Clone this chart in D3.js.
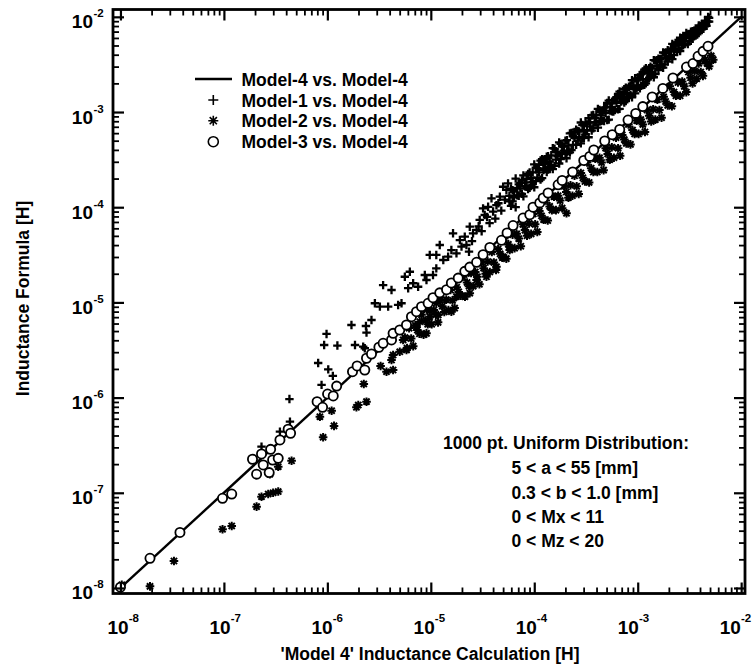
<!DOCTYPE html>
<html>
<head>
<meta charset="utf-8">
<script src="https://cdn.jsdelivr.net/npm/d3@7"></script>
<style>
  body { margin: 0; background: #fff; }
  svg text { font-family: "Liberation Sans", Arial, Helvetica, sans-serif; font-weight: bold; fill: #000; }
</style>
</head>
<body>
<svg id="chart" width="752" height="665"></svg>
<script>
// reference line, Model-4 vs Model-4
const refLine = [[1e-8, 1e-8], [1e-2, 1e-2]];

// Model-1 vs Model-4 (plus), [model4, model1] in H
const model1 = [
  [2.31e-7,3.05e-7],[3.48e-7,4.39e-7],[4.35e-7,5.58e-7],[4.30e-7,9.66e-7],[8.15e-7,2.31e-6],[8.79e-7,1.36e-6],
  [9.31e-7,3.57e-6],[9.82e-7,4.66e-6],[1.02e-6,1.98e-6],[1.13e-6,1.69e-6],[1.25e-6,3.52e-6],[1.71e-6,5.79e-6],
  [1.85e-6,3.57e-6],[2.22e-6,3.43e-6],[2.39e-6,4.81e-6],[2.36e-6,5.65e-6],[2.30e-6,3.30e-6],[2.67e-6,6.53e-6],
  [2.88e-6,9.8e-6],[3.22e-6,9.02e-6],[3.46e-6,1.52e-5],[3.87e-6,9.02e-6],[4.17e-6,1.35e-5],[4.83e-6,9.40e-6],
  [5.21e-6,9.80e-6],[5.61e-6,1.86e-5],[6.04e-6,1.41e-5],[6.27e-6,2.10e-5],[6.75e-6,1.59e-5],[7.54e-6,1.46e-5],
  [8.75e-6,1.94e-5],[9.08e-6,1.72e-5],[9.77e-6,3.15e-5],[1.05e-5,1.94e-5],[1.13e-5,2.28e-5],[1.13e-5,3.15e-5],
  [1.22e-5,4.01e-5],[1.32e-5,2.79e-5],[1.47e-5,3.02e-5],[1.58e-5,3.55e-5],[1.64e-5,5.32e-5],[1.77e-5,3.28e-5],
  [1.91e-5,4.52e-5],[1.98e-5,3.85e-5],[2.13e-5,4.90e-5],[2.21e-5,4.01e-5],[2.34e-5,3.41e-5],[2.38e-5,6.24e-5],
  [2.5e-5,4.4e-5],[2.56e-5,5.32e-5],[2.77e-5,5.77e-5],[2.9e-5,6.3e-5],[2.97e-5,7.35e-5],[3.1e-5,5.6e-5],
  [3.20e-5,9.73e-5],[3.32e-5,8.28e-5],[3.5e-5,7.9e-5],[3.58e-5,1.01e-4],[3.7e-5,6.8e-5],[3.86e-5,1.24e-4],
  [4.0e-5,9.0e-5],[4.2e-5,7.6e-5],[4.31e-5,1.05e-4],[4.5e-5,1.1e-4],[4.65e-5,1.29e-4],[4.8e-5,9.2e-5],
  [5.00e-5,1.64e-4],[5.2e-5,1.2e-4],[5.38e-5,1.52e-4],[5.58e-5,1.78e-4],
  [5.75e-5,1.15e-4],[5.96e-5,1.57e-4],[6.17e-5,1.15e-4],[6.38e-5,1.46e-4],[6.61e-5,2.00e-4],[6.84e-5,1.33e-4],
  [7.08e-5,1.74e-4],[7.33e-5,1.57e-4],[7.59e-5,1.38e-4],[7.85e-5,2.16e-4],[8.13e-5,1.66e-4],[8.41e-5,1.97e-4],
  [8.71e-5,1.55e-4],[9.02e-5,2.32e-4],[9.33e-5,2.04e-4],[9.66e-5,1.84e-4],[1.00e-4,2.82e-4],[1.035e-4,1.88e-4],
  [1.07e-4,2.57e-4],[1.11e-4,2.32e-4],[1.15e-4,1.95e-4],[1.19e-4,3.20e-4],[1.23e-4,2.45e-4],[1.27e-4,2.92e-4],
  [1.32e-4,2.34e-4],[1.36e-4,3.43e-4],[1.41e-4,3.02e-4],[1.46e-4,2.79e-4],[1.51e-4,4.17e-4],[1.57e-4,2.72e-4],
  [1.62e-4,3.80e-4],[1.68e-4,3.43e-4],[1.74e-4,2.88e-4],[1.80e-4,4.62e-4],[1.86e-4,3.63e-4],[1.93e-4,4.32e-4],
  [2.00e-4,3.63e-4],[2.05e-4,3.27e-4],[2.07e-4,5.07e-4],[2.14e-4,4.47e-4],[2.21e-4,3.76e-4],[2.29e-4,6.03e-4],
  [2.37e-4,4.52e-4],[2.45e-4,5.37e-4],[2.54e-4,4.52e-4],[2.63e-4,6.31e-4],[2.72e-4,5.43e-4],[2.82e-4,4.68e-4],
  [2.92e-4,7.33e-4],[3.02e-4,6.46e-4],[3.13e-4,5.82e-4],[3.24e-4,7.41e-4],[3.35e-4,5.43e-4],[3.47e-4,7.08e-4],
  [3.59e-4,9.23e-4],[3.72e-4,6.76e-4],[3.85e-4,8.61e-4],[3.98e-4,7.76e-4],[4.12e-4,6.84e-4],[4.27e-4,1.05e-3],
  [4.42e-4,9.23e-4],[4.57e-4,8.13e-4],[4.73e-4,1.11e-3],[4.90e-4,9.77e-4],[5.07e-4,8.22e-4],[5.25e-4,1.32e-3],
  [5.43e-4,1.035e-3],[5.62e-4,1.23e-3],[5.82e-4,1.01e-3],[6.03e-4,1.38e-3],[6.24e-4,1.245e-3],[6.46e-4,1.07e-3],
  [6.68e-4,1.64e-3],[6.92e-4,1.29e-3],[7.16e-4,1.53e-3],[7.41e-4,1.26e-3],[7.67e-4,1.80e-3],[7.94e-4,1.585e-3],
  [8.22e-4,1.46e-3],[8.51e-4,1.905e-3],[8.81e-4,1.43e-3],[9.12e-4,1.905e-3],[9.44e-4,2.26e-3],[9.77e-4,1.78e-3],
  [1.01e-3,2.21e-3],[1.05e-3,1.78e-3],[1.08e-3,2.48e-3],[1.12e-3,2.19e-3],[1.16e-3,1.93e-3],[1.20e-3,2.88e-3],
  [1.245e-3,2.54e-3],[1.29e-3,2.29e-3],[1.33e-3,2.99e-3],[1.38e-3,2.63e-3],[1.43e-3,2.32e-3],[1.48e-3,3.47e-3],
  [1.53e-3,3.05e-3],[1.585e-3,2.75e-3],[1.64e-3,3.59e-3],[1.70e-3,3.16e-3],[1.76e-3,2.92e-3],[1.82e-3,4.17e-3],
  [1.88e-3,3.67e-3],[1.95e-3,3.39e-3],[2.02e-3,4.32e-3],[2.09e-3,3.89e-3],[2.16e-3,3.59e-3],[2.24e-3,5.01e-3],
  [2.32e-3,4.62e-3],[2.40e-3,4.27e-3],[2.48e-3,5.31e-3],[2.57e-3,4.37e-3],[2.66e-3,5.19e-3],[2.75e-3,6.03e-3],
  [2.85e-3,5.19e-3],[2.95e-3,6.03e-3],[3.05e-3,5.19e-3],[3.16e-3,6.61e-3],[3.27e-3,6.10e-3],[3.39e-3,5.89e-3],
  [3.51e-3,7.16e-3],[3.63e-3,6.61e-3],[3.76e-3,7.33e-3],[3.89e-3,6.76e-3],[4.03e-3,8.04e-3],[4.17e-3,7.59e-3],
  [4.32e-3,8.22e-3],[4.47e-3,7.94e-3],[4.62e-3,9.02e-3],[4.79e-3,8.91e-3],[4.90e-3,9.77e-3],
  [5.75e-5,1.32e-4],[5.96e-5,1.035e-4],[6.17e-5,1.51e-4],[6.38e-5,1.27e-4],[6.61e-5,1.00e-4],[6.84e-5,1.60e-4],
  [7.08e-5,1.32e-4],[7.33e-5,1.80e-4],[7.59e-5,1.91e-4],[7.85e-5,1.30e-4],[8.13e-5,1.82e-4],[8.41e-5,1.64e-4],
  [8.71e-5,2.24e-4],[9.02e-5,1.60e-4],[9.33e-5,1.70e-4],[9.66e-5,2.32e-4],[1.00e-4,1.62e-4],[1.035e-4,2.60e-4],
  [1.07e-4,2.04e-4],[1.11e-4,2.79e-4],[1.15e-4,3.09e-4],[1.19e-4,2.02e-4],[1.23e-4,2.82e-4],[1.27e-4,2.54e-4],
  [1.32e-4,3.39e-4],[1.36e-4,2.48e-4],[1.41e-4,2.63e-4],[1.46e-4,3.51e-4],[1.51e-4,2.51e-4],[1.57e-4,4.12e-4],
  [1.62e-4,3.16e-4],[1.68e-4,3.76e-4],[1.74e-4,4.79e-4],[1.80e-4,3.20e-4],[1.86e-4,4.37e-4],[1.93e-4,3.94e-4],
  [2.00e-4,5.01e-4],[2.07e-4,3.85e-4],[2.14e-4,3.89e-4],[2.21e-4,5.96e-4],[2.29e-4,3.98e-4],[2.37e-4,5.69e-4],
  [2.45e-4,6.17e-4],[2.54e-4,6.53e-4],[2.63e-4,5.01e-4],[2.72e-4,6.24e-4],[2.82e-4,7.76e-4],[2.92e-4,5.31e-4],
  [3.02e-4,5.37e-4],[3.13e-4,7.67e-4],[3.24e-4,6.46e-4],[3.35e-4,8.61e-4],[3.47e-4,7.76e-4],[3.59e-4,6.38e-4],
  [3.72e-4,9.33e-4],[3.85e-4,7.85e-4],[3.98e-4,9.33e-4],[4.12e-4,1.08e-3],[4.27e-4,7.94e-4],[4.42e-4,8.04e-4],
  [4.57e-4,1.02e-3],[4.73e-4,8.04e-4],[4.90e-4,1.12e-3],[5.07e-4,1.245e-3],[5.25e-4,8.32e-4],[5.43e-4,1.135e-3],
  [5.62e-4,1.02e-3],[5.82e-4,1.33e-3],[6.03e-4,1.05e-3],[6.24e-4,1.40e-3],[6.46e-4,1.55e-3],[6.68e-4,1.08e-3],
  [6.92e-4,1.48e-3],[7.16e-4,1.33e-3],[7.41e-4,1.74e-3],[7.67e-4,1.30e-3],[7.94e-4,1.41e-3],[8.22e-4,1.84e-3],
  [8.51e-4,1.51e-3],[8.81e-4,2.16e-3],[9.12e-4,1.74e-3],[9.44e-4,1.57e-3],[9.77e-4,2.14e-3],[1.01e-3,1.84e-3],
  [1.05e-3,2.45e-3],[1.08e-3,1.88e-3],[1.12e-3,2.63e-3],[1.16e-3,2.79e-3],[1.20e-3,2.00e-3],[1.245e-3,2.21e-3],
  [1.29e-3,2.88e-3],[1.33e-3,2.37e-3],[1.38e-3,2.88e-3],[1.43e-3,3.51e-3],[1.48e-3,2.51e-3],[1.53e-3,3.51e-3],
  [1.585e-3,3.63e-3],[1.64e-3,2.99e-3],[1.70e-3,3.63e-3],[1.76e-3,4.22e-3],[1.82e-3,3.16e-3],[1.88e-3,4.22e-3],
  [1.95e-3,4.47e-3],[2.02e-3,3.76e-3],[2.09e-3,4.47e-3],[2.16e-3,5.19e-3],[2.24e-3,3.98e-3],[2.32e-3,5.31e-3],
  [2.40e-3,5.37e-3],[2.48e-3,4.62e-3],[2.57e-3,6.03e-3],[2.66e-3,5.96e-3],[2.75e-3,5.01e-3],[2.85e-3,6.24e-3],
  [2.95e-3,6.76e-3],[3.05e-3,6.53e-3],[3.16e-3,5.50e-3],[3.27e-3,7.00e-3],[3.39e-3,7.08e-3],[3.51e-3,6.24e-3],
  [3.63e-3,7.24e-3],[3.76e-3,6.53e-3],[3.89e-3,8.13e-3],[4.03e-3,7.33e-3],[4.17e-3,8.32e-3],[4.32e-3,7.50e-3],
  [4.47e-3,9.12e-3],[4.62e-3,8.04e-3],[4.79e-3,1.00e-2],[4.90e-3,8.91e-3]
];

// Model-2 vs Model-4 (asterisk)
const model2 = [
  [1.03e-8,1.08e-8],[1.93e-8,1.04e-8],[3.29e-8,1.92e-8],[9.7e-8,4.14e-8],[1.19e-7,4.48e-8],[2.07e-7,7.15e-8],
  [2.31e-7,9.10e-8],[2.68e-7,9.70e-8],[2.99e-7,1.00e-7],[3.35e-7,1.03e-7],[2.78e-7,1.57e-7],[3.35e-7,1.88e-7],
  [4.51e-7,2.17e-7],[8.47e-7,6.30e-7],[9.10e-7,3.83e-7],[1.16e-6,5.04e-7],[1.10e-6,7.28e-7],[1.91e-6,7.91e-7],
  [1.99e-6,8.36e-7],[2.39e-6,9.06e-7],[2.25e-6,1.39e-6],[3.27e-6,2.15e-6],[3.73e-6,1.87e-6],[4.17e-6,2.48e-6],
  [4.32e-6,1.95e-6],[4.32e-6,2.80e-6],[5.01e-6,3.03e-6],[5.40e-6,4.03e-6],[5.82e-6,3.16e-6],[7.27e-6,5.56e-6],
  [7.83e-6,6.27e-6],[9.08e-6,4.73e-6],[9.08e-6,8.5e-6],[9.77e-6,7.08e-6],[1.13e-5,9.86e-6],[1.18e-5,7.38e-6],
  [1.58e-5,7.98e-6],[1.77e-5,1.15e-5],[2.21e-5,2.02e-5],[2.38e-5,1.25e-5],[2.77e-5,1.72e-5],[3.45e-5,1.86e-5],
  [4.31e-5,2.37e-5],[5.00e-5,3.02e-5],[5.79e-5,3.55e-5],[2.05e-4,8.63e-5],
  [5.62e-6,4.27e-6],[5.89e-6,3.31e-6],[6.17e-6,5.37e-6],[6.46e-6,4.17e-6],[6.76e-6,3.47e-6],[7.08e-6,5.75e-6],
  [7.41e-6,5.13e-6],[7.76e-6,4.68e-6],[8.13e-6,7.41e-6],[8.51e-6,4.57e-6],[8.91e-6,6.46e-6],[9.33e-6,5.89e-6],
  [9.77e-6,8.13e-6],[1.02e-5,5.89e-6],[1.07e-5,8.32e-6],[1.12e-5,7.41e-6],[1.175e-5,6.17e-6],[1.23e-5,1.05e-5],
  [1.29e-5,9.12e-6],[1.35e-5,7.94e-6],[1.41e-5,1.07e-5],[1.48e-5,8.32e-6],[1.55e-5,1.35e-5],[1.62e-5,1.05e-5],
  [1.70e-5,8.71e-6],[1.78e-5,1.445e-5],[1.86e-5,1.29e-5],[1.95e-5,1.175e-5],[2.04e-5,1.86e-5],[2.14e-5,1.15e-5],
  [2.24e-5,1.62e-5],[2.34e-5,1.48e-5],[2.45e-5,2.04e-5],[2.57e-5,1.48e-5],[2.69e-5,2.09e-5],[2.82e-5,1.86e-5],
  [2.95e-5,1.55e-5],[3.09e-5,2.63e-5],[3.24e-5,2.29e-5],[3.39e-5,2.00e-5],[3.55e-5,2.69e-5],[3.72e-5,2.09e-5],
  [3.89e-5,3.39e-5],[4.07e-5,2.63e-5],[4.27e-5,2.19e-5],[4.47e-5,3.63e-5],[4.68e-5,3.24e-5],[4.90e-5,2.95e-5],
  [5.13e-5,4.68e-5],[5.37e-5,2.88e-5],[5.62e-5,4.07e-5],[5.89e-5,3.72e-5],[6.17e-5,5.13e-5],[6.46e-5,3.72e-5],
  [6.76e-5,5.25e-5],[7.08e-5,4.68e-5],[7.41e-5,3.89e-5],[7.76e-5,6.61e-5],[8.13e-5,5.75e-5],[8.51e-5,5.01e-5],
  [8.91e-5,6.76e-5],[9.33e-5,5.25e-5],[9.77e-5,8.51e-5],[1.02e-4,6.61e-5],[1.07e-4,5.50e-5],[1.12e-4,9.12e-5],
  [1.175e-4,8.13e-5],[1.23e-4,7.41e-5],[1.29e-4,1.175e-4],[1.35e-4,7.24e-5],[1.41e-4,1.02e-4],[1.48e-4,9.33e-5],
  [1.55e-4,1.29e-4],[1.62e-4,9.33e-5],[1.70e-4,1.32e-4],[1.78e-4,1.175e-4],[1.86e-4,9.77e-5],[1.95e-4,1.66e-4],
  [2.04e-4,1.445e-4],[2.14e-4,1.26e-4],[2.24e-4,1.70e-4],[2.34e-4,1.32e-4],[2.45e-4,2.14e-4],[2.57e-4,1.66e-4],
  [2.69e-4,1.38e-4],[2.82e-4,2.29e-4],[2.95e-4,2.04e-4],[3.09e-4,1.86e-4],[3.24e-4,2.95e-4],[3.39e-4,1.82e-4],
  [3.55e-4,2.57e-4],[3.72e-4,2.34e-4],[3.89e-4,3.24e-4],[4.07e-4,2.34e-4],[4.27e-4,3.31e-4],[4.47e-4,2.95e-4],
  [4.68e-4,2.45e-4],[4.90e-4,4.17e-4],[5.13e-4,3.63e-4],[5.37e-4,3.16e-4],[5.62e-4,4.27e-4],[5.89e-4,3.31e-4],
  [6.17e-4,5.37e-4],[6.46e-4,4.17e-4],[6.76e-4,3.47e-4],[7.08e-4,5.75e-4],[7.41e-4,5.13e-4],[7.76e-4,4.68e-4],
  [8.13e-4,7.41e-4],[8.51e-4,4.57e-4],[8.91e-4,6.46e-4],[9.33e-4,5.89e-4],[9.77e-4,8.13e-4],[1.02e-3,5.89e-4],
  [1.07e-3,8.32e-4],[1.12e-3,7.41e-4],[1.175e-3,6.17e-4],[1.23e-3,1.05e-3],[1.29e-3,9.12e-4],[1.35e-3,7.94e-4],
  [1.41e-3,1.07e-3],[1.48e-3,8.32e-4],[1.55e-3,1.35e-3],[1.62e-3,1.05e-3],[1.70e-3,8.71e-4],[1.78e-3,1.445e-3],
  [1.86e-3,1.29e-3],[1.95e-3,1.175e-3],[2.04e-3,1.86e-3],[2.14e-3,1.15e-3],[2.24e-3,1.62e-3],[2.34e-3,1.48e-3],
  [2.45e-3,2.04e-3],[2.57e-3,1.48e-3],[2.69e-3,2.09e-3],[2.82e-3,1.86e-3],[2.95e-3,1.62e-3],[3.09e-3,2.63e-3],
  [3.24e-3,2.29e-3],[3.39e-3,2.00e-3],[3.55e-3,2.69e-3],[3.72e-3,2.24e-3],[3.89e-3,3.24e-3],[4.07e-3,2.63e-3],
  [4.27e-3,2.40e-3],[4.47e-3,3.55e-3],[4.68e-3,3.24e-3],[4.90e-3,3.02e-3],[5.13e-3,3.89e-3],[5.37e-3,3.55e-3]
];

// Model-3 vs Model-4 (open circle)
const model3 = [
  [1.0e-8,1.02e-8],[1.93e-8,2.05e-8],[3.76e-8,3.83e-8],[9.7e-8,8.75e-8],[1.19e-7,9.7e-8],[1.89e-7,2.25e-7],
  [2.07e-7,1.57e-7],[2.31e-7,2.56e-7],[2.40e-7,1.96e-7],[2.74e-7,1.63e-7],[2.83e-7,2.86e-7],[2.96e-7,2.21e-7],
  [3.35e-7,2.30e-7],[3.48e-7,3.59e-7],[4.18e-7,4.65e-7],[4.41e-7,4.22e-7],[7.96e-7,9.06e-7],[8.99e-7,7.91e-7],
  [1.005e-6,1.09e-6],[1.14e-6,1.04e-6],[1.23e-6,1.32e-6],[1.75e-6,1.87e-6],[1.94e-6,2.15e-6],[2.30e-6,1.95e-6],
  [2.39e-6,2.59e-6],[2.67e-6,2.87e-6],[3.15e-6,3.38e-6],[3.46e-6,3.72e-6],[4.17e-6,4.03e-6],[4.32e-6,4.73e-6],
  [5.01e-6,5.13e-6],[5.82e-6,5.79e-6],[6.50e-6,7.08e-6],[7.27e-6,7.98e-6],[8.13e-6,9.02e-6],[9.42e-6,9.79e-6],
  [1.05e-5,1.12e-5],[1.22e-5,1.26e-5],[1.42e-5,1.36e-5],[1.58e-5,1.60e-5],[1.84e-5,1.80e-5],[2.13e-5,2.12e-5],
  [2.38e-5,2.35e-5],[2.77e-5,2.64e-5],[3.20e-5,3.17e-5],[3.72e-5,3.78e-5],[4.82e-5,4.49e-5],[5.46e-5,5.37e-5],
  [6.24e-5,6.42e-5],[7.80e-5,7.70e-5],[9.05e-5,8.34e-5],[9.73e-5,1.00e-4],[1.13e-4,1.11e-4],[1.22e-4,1.25e-4],
  [1.36e-4,1.41e-4],[1.70e-4,1.72e-4],[1.86e-4,1.91e-4],[2.35e-4,2.35e-4],[3.01e-4,3.10e-4],[3.44e-4,3.42e-4],
  [3.76e-4,3.99e-4],[4.80e-4,4.96e-4],[5.67e-4,5.78e-4],[6.70e-4,6.56e-4],[8.06e-4,8.23e-4],[9.57e-4,9.67e-4],
  [1.12e-3,1.14e-3],[1.38e-3,1.44e-3],[1.75e-3,1.77e-3],[2.19e-3,2.28e-3],[2.96e-3,2.97e-3],[3.42e-3,3.23e-3],
  [3.83e-3,3.85e-3],[4.28e-3,4.34e-3],[4.78e-3,4.90e-3]
];

const tickExps = [-8, -7, -6, -5, -4, -3, -2];
const legendLabels = ["Model-4 vs. Model-4", "Model-1 vs. Model-4", "Model-2 vs. Model-4", "Model-3 vs. Model-4"];
const noteLines = ["1000 pt. Uniform Distribution:", "5 < a < 55 [mm]", "0.3 < b < 1.0 [mm]", "0 < Mx < 11", "0 < Mz < 20"];
const xTitle = "'Model 4' Inductance Calculation [H]";
const yTitle = "Inductance Formula [H]";

const svg = d3.select("#chart");
const L = 113, R = 745, T = 9.5, B = 593.5;

const x = d3.scaleLog().domain([Math.pow(10, -8.072), Math.pow(10, -1.963)]).range([L, R]);
const y = d3.scaleLog().domain([Math.pow(10, -8.058), Math.pow(10, -1.923)]).range([B, T]);

function plusPath(s) { return `M${-s},0H${s}M0,${-s}V${s}`; }
function starPath(s) {
  const a = s * 0.72;
  return `M0,${-s}V${s}M${-s},0H${s}M${-a},${-a}L${a},${a}M${-a},${a}L${a},${-a}`;
}

// markers
const plot = svg.append("g");
plot.selectAll("path.m2").data(model2).join("path").attr("class", "m2")
  .attr("transform", d => `translate(${x(d[0])},${y(d[1])})`)
  .attr("d", starPath(4.3)).attr("fill", "none").attr("stroke", "#000").attr("stroke-width", 2);

plot.selectAll("path.m1").data(model1).join("path").attr("class", "m1")
  .attr("transform", d => `translate(${x(d[0])},${y(d[1])})`)
  .attr("d", plusPath(4.2)).attr("fill", "none").attr("stroke", "#000").attr("stroke-width", 2.3);

plot.append("path").datum(refLine)
  .attr("d", d3.line().x(d => x(d[0])).y(d => y(d[1])))
  .attr("fill", "none").attr("stroke", "#000").attr("stroke-width", 2.4);

plot.selectAll("circle.m3").data(model3).join("circle").attr("class", "m3")
  .attr("cx", d => x(d[0])).attr("cy", d => y(d[1])).attr("r", 4.6)
  .attr("fill", "#fff").attr("stroke", "#000").attr("stroke-width", 1.8);

// ticks, inward on all four sides
const majorVals = tickExps.map(e => Math.pow(10, e));
const minorVals = [];
tickExps.slice(0, -1).forEach(e => { for (let m = 2; m <= 9; m++) minorVals.push(m * Math.pow(10, e)); });

function addAxis(axisFn, scale, vals, size, pos, w) {
  const g = svg.append("g").attr("transform", pos)
    .call(axisFn(scale).tickValues(vals).tickSizeInner(-size).tickSizeOuter(0).tickFormat(""));
  g.select(".domain").remove();
  g.selectAll("line").attr("stroke", "#000").attr("stroke-width", w);
}
[[majorVals, 11, 2.2], [minorVals, 6, 1.8]].forEach(([vals, size, w]) => {
  addAxis(d3.axisBottom, x, vals, size, `translate(0,${B})`, w);
  addAxis(d3.axisTop, x, vals, size, `translate(0,${T})`, w);
  addAxis(d3.axisLeft, y, vals, size, `translate(${L},0)`, w);
  addAxis(d3.axisRight, y, vals, size, `translate(${R},0)`, w);
});

svg.append("rect").attr("x", L).attr("y", T).attr("width", R - L).attr("height", B - T)
  .attr("fill", "none").attr("stroke", "#000").attr("stroke-width", 2.8);

// tick labels as 10 with superscript
tickExps.forEach((e, i) => {
  const v = Math.pow(10, e);
  const bx = x(v) - 13 - 1.4 * i;
  svg.append("text").attr("x", bx).attr("y", 634).attr("font-size", 19).text("10");
  svg.append("text").attr("x", bx + 21.2).attr("y", 622).attr("font-size", 11.5).text(e);
  svg.append("text").attr("x", 93).attr("y", y(v) + 11.5).attr("text-anchor", "end").attr("font-size", 19).text("10");
  svg.append("text").attr("x", 93.5).attr("y", y(v) + 0.5).attr("font-size", 11.5).text(e);
});

// axis titles
svg.append("text").attr("x", 430).attr("y", 660).attr("text-anchor", "middle").attr("font-size", 17.5).text(xTitle);
svg.append("text").attr("transform", "translate(28.5,298.5) rotate(-90)").attr("text-anchor", "middle")
  .attr("font-size", 17.5).text(yTitle);

// legend
const rows = [79, 100, 120.7, 141.7];
const lg = svg.append("g");
lg.append("line").attr("x1", 195).attr("x2", 232).attr("y1", rows[0]).attr("y2", rows[0])
  .attr("stroke", "#000").attr("stroke-width", 2.4);
lg.append("path").attr("transform", `translate(213.3,${rows[1]})`).attr("d", plusPath(5))
  .attr("stroke", "#000").attr("stroke-width", 1.6).attr("fill", "none");
lg.append("path").attr("transform", `translate(213.3,${rows[2]})`).attr("d", starPath(5))
  .attr("stroke", "#000").attr("stroke-width", 1.6).attr("fill", "none");
lg.append("circle").attr("cx", 213.3).attr("cy", rows[3]).attr("r", 5)
  .attr("fill", "#fff").attr("stroke", "#000").attr("stroke-width", 1.6);
lg.selectAll("text").data(legendLabels).join("text")
  .attr("x", 241.5).attr("y", (d, i) => rows[i] + 6.5).attr("font-size", 17.5).text(d => d);

// annotation
const noteY = [449, 474, 498.5, 523, 547];
svg.append("g").selectAll("text").data(noteLines).join("text")
  .attr("x", (d, i) => i === 0 ? 443 : 511.5).attr("y", (d, i) => noteY[i])
  .attr("font-size", 17.5).text(d => d);
</script>
</body>
</html>
